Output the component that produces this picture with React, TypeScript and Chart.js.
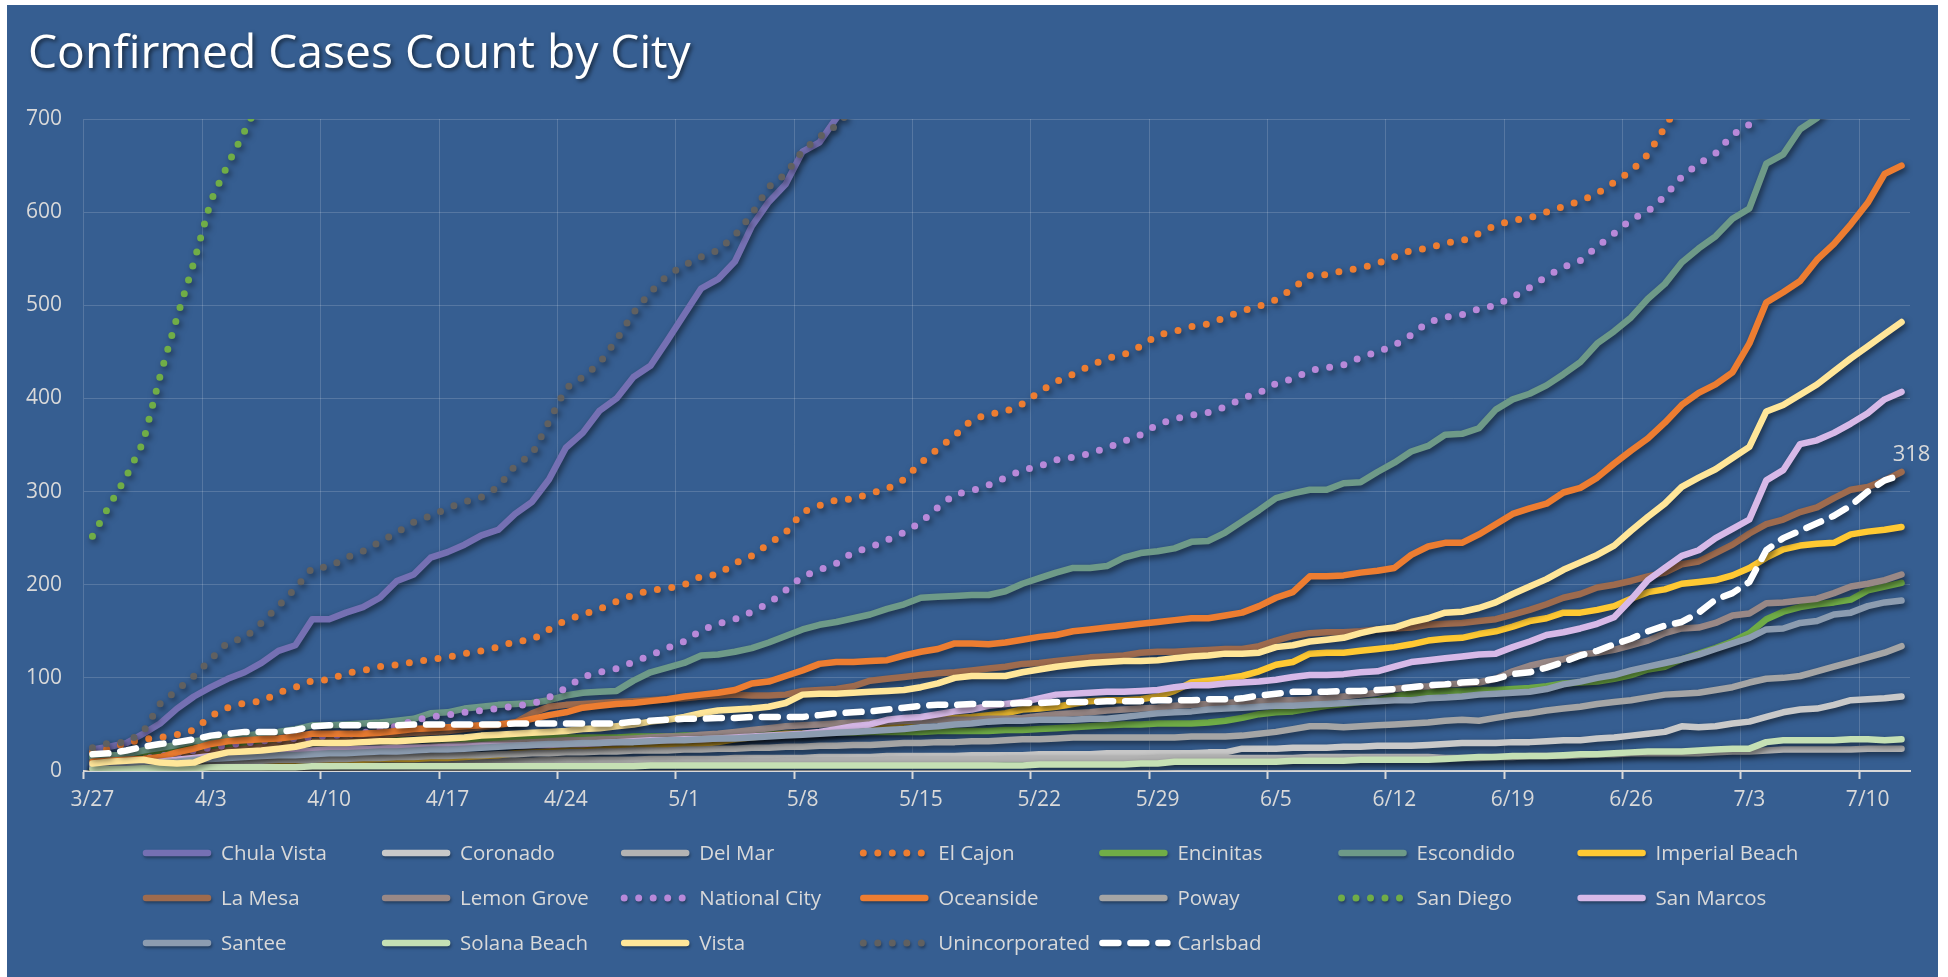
import React, { useEffect, useRef } from 'react';
import { Chart, registerables } from 'chart.js';

Chart.register(...registerables);

const chartTitle = 'Confirmed Cases Count by City';

const dates = [
  '3/27', '3/28', '3/29', '3/30', '3/31',
  '4/1', '4/2', '4/3', '4/4', '4/5', '4/6', '4/7', '4/8', '4/9', '4/10',
  '4/11', '4/12', '4/13', '4/14', '4/15', '4/16', '4/17', '4/18', '4/19', '4/20',
  '4/21', '4/22', '4/23', '4/24', '4/25', '4/26', '4/27', '4/28', '4/29', '4/30',
  '5/1', '5/2', '5/3', '5/4', '5/5', '5/6', '5/7', '5/8', '5/9', '5/10',
  '5/11', '5/12', '5/13', '5/14', '5/15', '5/16', '5/17', '5/18', '5/19', '5/20',
  '5/21', '5/22', '5/23', '5/24', '5/25', '5/26', '5/27', '5/28', '5/29', '5/30', '5/31',
  '6/1', '6/2', '6/3', '6/4', '6/5', '6/6', '6/7', '6/8', '6/9', '6/10',
  '6/11', '6/12', '6/13', '6/14', '6/15', '6/16', '6/17', '6/18', '6/19', '6/20',
  '6/21', '6/22', '6/23', '6/24', '6/25', '6/26', '6/27', '6/28', '6/29', '6/30',
  '7/1', '7/2', '7/3', '7/4', '7/5', '7/6', '7/7', '7/8', '7/9', '7/10', '7/11', '7/12',
];

const chulaVista = [
  23, 26, 30, 40, 51, 67, 80, 90, 99, 106,
  116, 129, 135, 163, 163, 170, 176, 186, 204, 211,
  229, 235, 243, 253, 259, 276, 289, 313, 347, 363,
  387, 400, 423, 435, 462, 490, 518, 528, 547, 585,
  611, 630, 665, 675, 701, 726, 748, 771, 797, 822,
  846, 873, 895, 918, 942, 961, 983, 1004, 1019, 1042,
  1063, 1078, 1101, 1124, 1139, 1158, 1182, 1203, 1226, 1248,
  1277, 1301, 1322, 1352, 1377, 1398, 1427, 1456, 1483, 1517,
  1544, 1578, 1606, 1641, 1672, 1713, 1748, 1792, 1829, 1873,
  1912, 1958, 2013, 2058, 2112, 2163, 2208, 2271, 2334, 2389,
  2452, 2508, 2573, 2627, 2694, 2748, 2812, 2868,
];
const coronado = [
  3, 3, 4, 4, 5, 5, 6, 6, 7, 7,
  7, 8, 8, 8, 8, 9, 9, 9, 9, 10,
  10, 10, 10, 11, 11, 11, 11, 12, 12, 12,
  12, 12, 12, 13, 13, 13, 13, 13, 14, 14,
  14, 14, 14, 15, 15, 15, 15, 16, 16, 16,
  16, 16, 17, 17, 17, 17, 18, 18, 18, 18,
  19, 19, 19, 19, 19, 19, 20, 20, 24, 24,
  24, 25, 25, 25, 26, 26, 27, 27, 27, 28,
  29, 30, 30, 30, 31, 31, 32, 33, 33, 35,
  36, 38, 40, 42, 48, 47, 48, 51, 53, 58,
  63, 66, 67, 71, 76, 77, 78, 80,
];
const delMar = [
  1, 1, 2, 2, 2, 3, 3, 3, 4, 4,
  4, 5, 5, 5, 5, 6, 6, 6, 6, 7,
  7, 7, 7, 7, 8, 8, 8, 8, 8, 9,
  9, 9, 9, 9, 9, 10, 10, 10, 10, 10,
  10, 11, 11, 11, 11, 11, 11, 12, 12, 12,
  12, 12, 12, 12, 13, 13, 13, 13, 13, 13,
  13, 13, 13, 14, 14, 14, 14, 14, 14, 14,
  14, 14, 15, 15, 15, 15, 15, 15, 15, 15,
  14, 14, 14, 15, 15, 16, 16, 16, 17, 18,
  18, 19, 19, 19, 19, 19, 20, 21, 21, 22,
  23, 23, 23, 23, 23, 24, 24, 24,
];
const elCajon = [
  20, 24, 30, 34, 36, 39, 44, 59, 68, 73,
  75, 84, 90, 97, 98, 105, 108, 112, 114, 117,
  120, 122, 126, 129, 133, 139, 141, 152, 162, 168,
  174, 182, 189, 194, 196, 200, 209, 211, 223, 231,
  244, 256, 278, 285, 291, 292, 298, 303, 313, 331,
  346, 360, 377, 383, 386, 394, 407, 418, 426, 435,
  443, 447, 456, 468, 472, 477, 480, 487, 494, 499,
  506, 518, 532, 533, 537, 540, 545, 552, 559, 561,
  567, 569, 577, 586, 591, 594, 600, 606, 612, 620,
  632, 644, 662, 691, 722, 748, 769, 803, 828, 861,
  887, 924, 948, 983, 1009, 1042, 1068, 1103,
];
const encinitas = [
  15, 16, 18, 20, 22, 24, 25, 27, 28, 29,
  30, 30, 31, 31, 32, 32, 32, 33, 33, 33,
  34, 34, 34, 35, 35, 35, 35, 35, 36, 36,
  36, 36, 37, 37, 37, 38, 38, 39, 39, 39,
  40, 40, 40, 41, 41, 41, 42, 42, 42, 42,
  43, 43, 43, 43, 44, 44, 45, 46, 47, 48,
  49, 50, 50, 51, 51, 51, 52, 54, 57, 61,
  63, 64, 67, 70, 72, 74, 76, 80, 83, 84,
  86, 86, 87, 87, 88, 89, 91, 94, 95, 96,
  99, 103, 109, 112, 120, 126, 132, 139, 148, 163,
  171, 176, 179, 181, 184, 194, 198, 202,
];
const escondido = [
  14, 16, 18, 22, 25, 28, 32, 34, 36, 38,
  40, 42, 45, 49, 49, 50, 51, 52, 54, 56,
  62, 63, 67, 69, 71, 72, 73, 76, 81, 84,
  85, 86, 97, 106, 111, 116, 124, 125, 128, 132,
  138, 145, 152, 157, 160, 164, 168, 174, 179, 186,
  187, 188, 189, 189, 193, 201, 207, 213, 218, 218,
  220, 229, 234, 236, 239, 246, 247, 256, 268, 280,
  293, 298, 302, 302, 309, 310, 321, 331, 343, 349,
  361, 362, 368, 388, 399, 405, 414, 426, 439, 459,
  472, 487, 507, 523, 546, 561, 574, 593, 604, 652,
  662, 689, 701, 724, 748, 769, 792, 816,
];
const imperialBeach = [
  1, 1, 3, 4, 4, 6, 7, 7, 9, 10,
  10, 11, 11, 12, 12, 12, 12, 13, 13, 13,
  14, 14, 15, 16, 17, 19, 20, 21, 22, 22,
  23, 24, 25, 26, 27, 28, 29, 31, 34, 36,
  38, 40, 40, 41, 43, 45, 48, 50, 52, 54,
  56, 57, 58, 60, 62, 66, 67, 69, 72, 75,
  76, 76, 77, 80, 86, 95, 97, 99, 102, 107,
  114, 117, 126, 127, 127, 129, 131, 133, 136, 140,
  142, 143, 147, 150, 155, 161, 164, 170, 170, 173,
  177, 185, 192, 195, 201, 203, 205, 210, 218, 229,
  238, 242, 244, 245, 254, 257, 259, 262,
];
const laMesa = [
  5, 6, 8, 10, 12, 15, 18, 20, 22, 24,
  26, 28, 30, 32, 34, 36, 37, 38, 40, 41,
  42, 43, 45, 47, 49, 52, 62, 69, 71, 72,
  73, 74, 75, 76, 77, 78, 80, 81, 82, 81,
  81, 82, 86, 87, 88, 91, 97, 99, 101, 103,
  105, 106, 108, 110, 112, 115, 116, 118, 120, 122,
  123, 124, 127, 128, 128, 129, 130, 131, 131, 134,
  140, 145, 148, 149, 149, 150, 152, 153, 154, 157,
  158, 159, 161, 163, 168, 173, 179, 186, 190, 197,
  200, 204, 209, 213, 222, 225, 234, 243, 255, 265,
  270, 278, 283, 293, 302, 305, 312, 321,
];
const lemonGrove = [
  3, 4, 4, 6, 8, 9, 12, 14, 15, 15,
  17, 18, 18, 20, 21, 21, 22, 24, 25, 25,
  26, 27, 28, 28, 29, 30, 31, 32, 33, 33,
  34, 34, 35, 36, 37, 37, 39, 40, 42, 44,
  46, 48, 49, 50, 51, 52, 52, 53, 54, 54,
  55, 55, 55, 56, 56, 57, 59, 61, 62, 63,
  65, 66, 67, 68, 70, 71, 72, 73, 74, 75,
  76, 76, 77, 78, 80, 82, 84, 88, 90, 91,
  93, 94, 95, 99, 107, 113, 117, 120, 125, 127,
  130, 135, 140, 148, 153, 154, 159, 167, 169, 180,
  181, 183, 185, 191, 198, 201, 205, 211,
];
const nationalCity = [
  6, 8, 10, 13, 16, 19, 22, 25, 28, 30,
  32, 34, 35, 36, 38, 39, 41, 44, 48, 54,
  58, 60, 63, 65, 67, 70, 72, 79, 89, 101,
  106, 110, 117, 124, 132, 139, 151, 158, 163, 171,
  180, 194, 209, 216, 223, 235, 240, 248, 256, 267,
  283, 297, 301, 307, 315, 323, 327, 334, 337, 341,
  347, 354, 361, 372, 378, 382, 385, 391, 400, 406,
  416, 421, 430, 433, 436, 444, 450, 457, 468, 482,
  487, 490, 496, 500, 509, 519, 531, 541, 548, 563,
  577, 592, 601, 617, 638, 652, 663, 683, 694, 712,
  729, 752, 768, 793, 811, 834, 852, 875,
];
const oceanside = [
  10, 11, 12, 13, 15, 20, 24, 29, 32, 33,
  34, 35, 37, 40, 40, 40, 40, 41, 43, 45,
  46, 47, 48, 49, 50, 52, 56, 60, 63, 68,
  70, 72, 73, 75, 77, 80, 82, 84, 87, 94,
  96, 102, 108, 115, 117, 117, 118, 119, 124, 128,
  131, 137, 137, 136, 138, 141, 144, 146, 150, 152,
  154, 156, 158, 160, 162, 164, 164, 167, 170, 177,
  186, 192, 209, 209, 210, 213, 215, 218, 232, 241,
  245, 245, 254, 265, 276, 282, 287, 299, 304, 315,
  330, 344, 357, 374, 393, 406, 415, 428, 459, 503,
  514, 526, 549, 566, 587, 610, 641, 650,
];
const poway = [
  5, 6, 6, 7, 8, 8, 9, 10, 10, 11,
  11, 12, 12, 12, 13, 13, 14, 14, 15, 15,
  16, 16, 17, 17, 18, 18, 19, 19, 20, 20,
  21, 21, 22, 22, 22, 23, 23, 24, 24, 25,
  25, 26, 26, 27, 27, 28, 28, 29, 30, 30,
  31, 31, 32, 32, 33, 34, 34, 35, 36, 36,
  36, 36, 36, 36, 36, 37, 37, 37, 38, 40,
  42, 45, 48, 48, 47, 48, 49, 50, 51, 52,
  54, 55, 54, 57, 60, 62, 65, 67, 69, 72,
  74, 76, 79, 82, 83, 84, 87, 90, 95, 99,
  100, 102, 107, 112, 117, 122, 127, 134,
];
const sanDiego = [
  252, 285, 316, 353, 424, 487, 546, 612, 651, 687,
  724, 771, 818, 879, 932, 978, 1034, 1087, 1142, 1178,
  1223, 1268, 1322, 1357, 1404, 1448, 1503, 1558, 1622, 1677,
  1731, 1788, 1853, 1898, 1962, 2008, 2063, 2107, 2161, 2198,
  2243, 2288, 2342, 2387, 2433, 2468, 2514, 2557, 2603, 2638,
  2692, 2727, 2773, 2808, 2852, 2887, 2933, 2968, 3014, 3047,
  3093, 3128, 3172, 3207, 3253, 3288, 3334, 3378, 3433, 3477,
  3533, 3578, 3634, 3688, 3753, 3807, 3874, 3928, 3993, 4058,
  4133, 4198, 4283, 4357, 4443, 4528, 4624, 4718, 4823, 4927,
  5053, 5168, 5304, 5437, 5583, 5728, 5884, 6037, 6203, 6358,
  6524, 6677, 6843, 6998, 7153, 7297, 7452, 7598,
];
const sanMarcos = [
  4, 5, 6, 8, 10, 12, 14, 16, 17, 18,
  19, 20, 21, 22, 23, 23, 24, 24, 25, 25,
  25, 26, 26, 27, 27, 27, 28, 28, 29, 29,
  30, 31, 32, 33, 33, 34, 34, 35, 36, 37,
  38, 39, 40, 42, 45, 48, 50, 55, 57, 58,
  61, 64, 66, 70, 72, 74, 78, 82, 83, 84,
  85, 85, 86, 87, 90, 92, 92, 94, 95, 96,
  98, 101, 103, 103, 104, 106, 107, 112, 117, 119,
  121, 123, 125, 126, 133, 139, 146, 149, 153, 158,
  165, 184, 205, 218, 231, 237, 250, 260, 270, 312,
  323, 351, 355, 363, 373, 384, 399, 407,
];
const santee = [
  4, 5, 6, 7, 9, 10, 12, 13, 14, 15,
  16, 17, 17, 18, 19, 19, 20, 21, 21, 22,
  23, 23, 24, 25, 26, 27, 28, 29, 29, 30,
  30, 31, 31, 32, 33, 33, 34, 35, 35, 36,
  37, 38, 39, 40, 41, 42, 43, 44, 45, 47,
  48, 50, 51, 53, 54, 54, 55, 55, 55, 56,
  56, 58, 60, 62, 63, 64, 66, 67, 68, 69,
  70, 70, 71, 72, 73, 74, 75, 76, 76, 78,
  79, 80, 82, 83, 84, 85, 88, 93, 96, 100,
  103, 108, 112, 116, 120, 125, 131, 137, 143, 152,
  153, 159, 161, 168, 170, 177, 181, 183,
];
const solanaBeach = [
  2, 2, 2, 3, 3, 3, 3, 4, 4, 4,
  4, 4, 4, 5, 5, 5, 5, 5, 5, 5,
  5, 5, 5, 5, 5, 5, 5, 5, 5, 5,
  5, 5, 5, 6, 6, 6, 6, 6, 6, 6,
  6, 6, 6, 6, 6, 6, 6, 6, 6, 6,
  6, 6, 6, 6, 6, 6, 7, 7, 7, 7,
  7, 7, 8, 8, 10, 10, 10, 10, 10, 10,
  10, 11, 11, 11, 11, 12, 12, 12, 12, 12,
  13, 14, 15, 15, 16, 16, 16, 17, 18, 18,
  19, 20, 21, 21, 21, 22, 23, 24, 24, 31,
  33, 33, 33, 33, 34, 34, 33, 34,
];
const vista = [
  8, 10, 11, 12, 9, 8, 9, 16, 20, 21,
  22, 24, 26, 30, 30, 30, 31, 32, 32, 33,
  34, 35, 36, 38, 39, 40, 41, 42, 43, 45,
  46, 48, 50, 53, 55, 58, 62, 65, 66, 67,
  69, 73, 82, 83, 83, 84, 85, 86, 87, 90,
  94, 100, 102, 102, 102, 106, 109, 112, 114, 116,
  117, 118, 118, 119, 121, 123, 124, 126, 126, 127,
  133, 135, 139, 141, 143, 148, 152, 154, 160, 164,
  170, 171, 175, 181, 190, 198, 206, 216, 224, 232,
  242, 258, 273, 287, 305, 315, 324, 336, 348, 386,
  393, 404, 415, 429, 443, 456, 469, 482,
];
const unincorporated = [
  25, 30, 31, 42, 72, 87, 102, 120, 138, 143,
  159, 177, 196, 218, 219, 229, 236, 246, 256, 267,
  274, 282, 289, 294, 305, 328, 340, 375, 411, 423,
  438, 463, 492, 514, 532, 543, 552, 559, 575, 598,
  627, 641, 666, 681, 693, 712, 736, 758, 787, 809,
  836, 858, 884, 903, 927, 944, 966, 987, 1003, 1027,
  1044, 1067, 1083, 1106, 1124, 1147, 1163, 1188, 1209, 1236,
  1258, 1287, 1311, 1333, 1362, 1384, 1412, 1438, 1471, 1498,
  1532, 1559, 1592, 1618, 1653, 1688, 1731, 1768, 1812, 1849,
  1893, 1938, 1992, 2037, 2094, 2138, 2193, 2247, 2312, 2368,
  2433, 2487, 2552, 2608, 2673, 2727, 2794, 2848,
];
const carlsbad = [
  18, 19, 22, 26, 29, 31, 34, 38, 40, 42,
  42, 42, 44, 48, 49, 49, 49, 49, 49, 50,
  50, 50, 50, 50, 50, 51, 51, 51, 51, 51,
  51, 51, 53, 54, 55, 56, 56, 57, 57, 58,
  58, 58, 58, 60, 62, 63, 64, 66, 68, 70,
  71, 71, 72, 72, 72, 73, 73, 74, 74, 74,
  75, 75, 75, 76, 76, 76, 77, 77, 78, 81,
  83, 85, 85, 85, 86, 86, 87, 88, 90, 92,
  93, 95, 96, 99, 104, 106, 111, 117, 124, 129,
  136, 142, 150, 156, 160, 170, 184, 191, 203, 237,
  250, 258, 266, 274, 285, 300, 312, 318,
];

type Kind = 'solid' | 'dot' | 'dash';
const series: { label: string; data: number[]; color: string; kind: Kind }[] = [
  { label: 'Chula Vista', data: chulaVista, color: '#7570b3', kind: 'solid' },
  { label: 'Coronado', data: coronado, color: '#c9c9c9', kind: 'solid' },
  { label: 'Del Mar', data: delMar, color: '#b3b3b3', kind: 'solid' },
  { label: 'El Cajon', data: elCajon, color: '#ed7d31', kind: 'dot' },
  { label: 'Encinitas', data: encinitas, color: '#70ad47', kind: 'solid' },
  { label: 'Escondido', data: escondido, color: '#6e9a88', kind: 'solid' },
  { label: 'Imperial Beach', data: imperialBeach, color: '#ffc933', kind: 'solid' },
  { label: 'La Mesa', data: laMesa, color: '#9e6b4e', kind: 'solid' },
  { label: 'Lemon Grove', data: lemonGrove, color: '#998886', kind: 'solid' },
  { label: 'National City', data: nationalCity, color: '#b889d9', kind: 'dot' },
  { label: 'Oceanside', data: oceanside, color: '#ed7d31', kind: 'solid' },
  { label: 'Poway', data: poway, color: '#a5a5a5', kind: 'solid' },
  { label: 'San Diego', data: sanDiego, color: '#70ad47', kind: 'dot' },
  { label: 'San Marcos', data: sanMarcos, color: '#d7b9e8', kind: 'solid' },
  { label: 'Santee', data: santee, color: '#8c9cb0', kind: 'solid' },
  { label: 'Solana Beach', data: solanaBeach, color: '#c5e0b4', kind: 'solid' },
  { label: 'Vista', data: vista, color: '#ffe699', kind: 'solid' },
  { label: 'Unincorporated', data: unincorporated, color: '#606060', kind: 'dot' },
  { label: 'Carlsbad', data: carlsbad, color: '#ffffff', kind: 'dash' },
];

const BG = '#365e91';
const TEXT = '#d9d9d9';
const GRID = 'rgba(255,255,255,0.16)';
const FONT = '"Open Sans", "DejaVu Sans", sans-serif';

function dashFor(kind: Kind): number[] {
  if (kind === 'dot') return [0, 14.5];
  if (kind === 'dash') return [16, 12];
  return [];
}

function widthFor(kind: Kind): number {
  return kind === 'dot' ? 7 : 6.5;
}

const shadowPlugin = {
  id: 'lineShadow',
  beforeDatasetsDraw(chart: any) {
    const c = chart.ctx;
    c.save();
    c.shadowColor = 'rgba(0,0,0,0.55)';
    c.shadowBlur = 6;
    c.shadowOffsetX = 2;
    c.shadowOffsetY = 3;
  },
  afterDatasetsDraw(chart: any) {
    chart.ctx.restore();
  },
};

const decorPlugin = {
  id: 'decor',
  afterDraw(chart: any) {
    const c = chart.ctx as CanvasRenderingContext2D;
    // Title
    c.save();
    c.font = `46px ${FONT}`;
    const w = c.measureText(chartTitle).width;
    const size = (46 * 663) / w;
    c.font = `${size}px ${FONT}`;
    c.fillStyle = '#ffffff';
    c.textBaseline = 'alphabetic';
    c.textAlign = 'left';
    c.shadowColor = 'rgba(0,0,0,0.6)';
    c.shadowBlur = 4;
    c.shadowOffsetX = 2;
    c.shadowOffsetY = 2;
    c.fillText(chartTitle, 21, 63);
    c.restore();

    // Data label for Carlsbad's last point
    const idx = series.length - 1;
    const meta = chart.getDatasetMeta(idx);
    const pt = meta.data[meta.data.length - 1];
    const last = series[idx].data[series[idx].data.length - 1];
    c.save();
    c.font = `22px ${FONT}`;
    c.fillStyle = TEXT;
    c.textAlign = 'center';
    c.textBaseline = 'middle';
    c.fillText(String(last), pt.x + 10, pt.y - 20);
    c.restore();

    // Legend in a fixed 7-column grid
    series.forEach((s, k) => {
      const row = Math.floor(k / 7);
      const col = k % 7;
      const x0 = 136 + col * 239.1;
      const y = 848 + row * 45;
      c.save();
      c.shadowColor = 'rgba(0,0,0,0.35)';
      c.shadowBlur = 3;
      c.shadowOffsetX = 1;
      c.shadowOffsetY = 2;
      c.strokeStyle = s.color;
      c.lineWidth = widthFor(s.kind);
      c.lineCap = 'round';
      c.setLineDash(dashFor(s.kind));
      c.beginPath();
      if (s.kind === 'solid') {
        c.moveTo(x0 + 3, y);
        c.lineTo(x0 + 65, y);
      } else {
        c.moveTo(x0 + 3, y);
        c.lineTo(x0 + 68, y);
      }
      c.stroke();
      c.restore();
      c.save();
      c.font = `20.5px ${FONT}`;
      c.fillStyle = TEXT;
      c.textAlign = 'left';
      c.textBaseline = 'middle';
      c.fillText(s.label, x0 + 78, y + 1);
      c.restore();
    });
  },
};

export default function App() {
  const ref = useRef<HTMLCanvasElement>(null);

  useEffect(() => {
    const canvas = ref.current;
    if (!canvas) return;
    const n = series.length;
    const chart = new Chart(canvas, {
      type: 'line',
      data: {
        labels: dates,
        datasets: series.map((s, i) => ({
          label: s.label,
          data: s.data,
          borderColor: s.color,
          backgroundColor: s.color,
          borderWidth: widthFor(s.kind),
          borderDash: dashFor(s.kind),
          borderCapStyle: 'round',
          borderJoinStyle: 'round',
          pointRadius: 0,
          pointHoverRadius: 0,
          tension: 0,
          fill: false,
          order: n - 1 - i,
        })) as any,
      },
      options: {
        responsive: false,
        animation: false,
        devicePixelRatio: 1,
        events: [],
        layout: { padding: { top: 114, left: 0, right: 28, bottom: 166 } },
        plugins: {
          legend: { display: false },
          title: { display: false },
          tooltip: { enabled: false },
        },
        scales: {
          x: {
            type: 'category',
            offset: true,
            grid: {
              offset: true,
              color: (ctx: any) => (ctx.index !== undefined && ctx.index % 7 === 0 ? GRID : 'rgba(0,0,0,0)'),
              lineWidth: 1,
              drawTicks: true,
              tickLength: 8,
              tickWidth: 2,
              tickColor: (ctx: any) => (ctx.index !== undefined && ctx.index % 7 === 0 ? TEXT : 'rgba(0,0,0,0)'),
            },
            border: { display: true, color: TEXT, width: 2 },
            ticks: {
              autoSkip: false,
              maxRotation: 0,
              minRotation: 0,
              color: TEXT,
              font: { family: FONT, size: 21 },
              padding: 8,
              callback: (_v: any, i: number) => (i % 7 === 0 ? dates[i] : ''),
            },
            afterFit: (s: any) => {
              s.height = 40;
            },
          },
          y: {
            min: 0,
            max: 700,
            ticks: {
              stepSize: 100,
              color: TEXT,
              font: { family: FONT, size: 21 },
              padding: 22,
            },
            grid: { color: GRID, drawTicks: false, lineWidth: 1 },
            border: { display: false },
            afterFit: (s: any) => {
              s.width = 77;
            },
          },
        },
      } as any,
      plugins: [shadowPlugin, decorPlugin],
    });
    return () => chart.destroy();
  }, []);

  return (
    <div
      style={{
        position: 'fixed',
        left: 7,
        top: 5,
        width: 1931,
        height: 972,
        background: BG,
      }}
    >
      <canvas ref={ref} width={1931} height={972} style={{ display: 'block', width: 1931, height: 972 }} />
    </div>
  );
}
